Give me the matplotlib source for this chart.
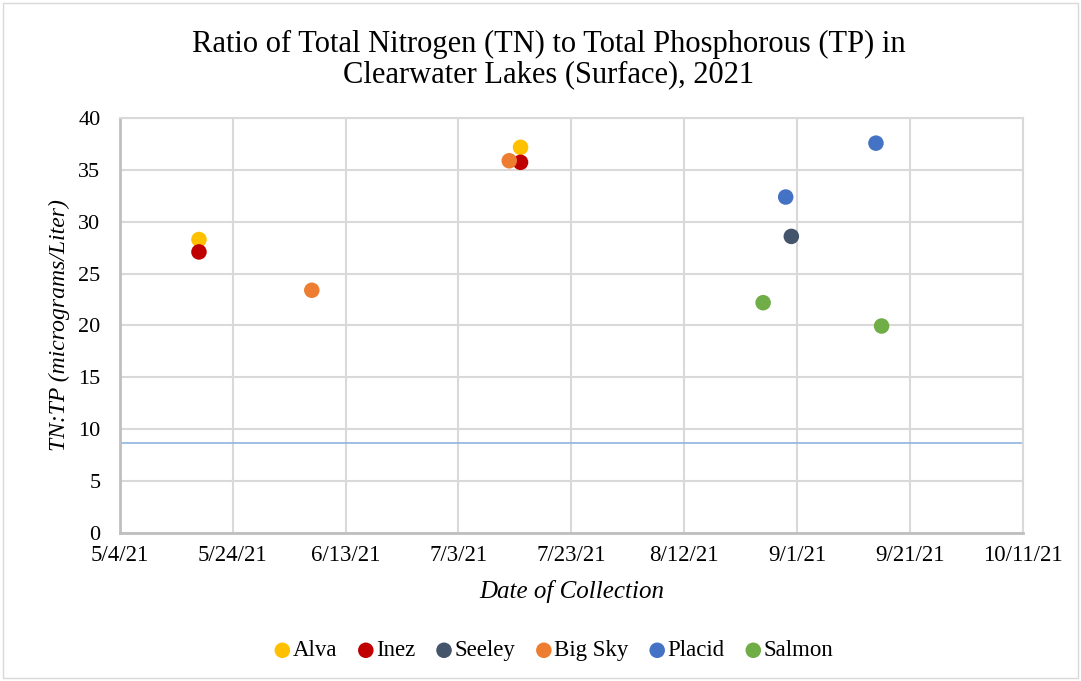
import matplotlib
matplotlib.use("Agg")
import matplotlib.pyplot as plt
import numpy as np
import pandas as pd
from matplotlib.patches import Rectangle

plt.rcParams['font.family'] = ['Liberation Serif', 'DejaVu Serif']

# TN:TP ratios by lake and collection date
lakes = ['Alva', 'Inez', 'Seeley', 'Big Sky', 'Placid', 'Salmon']
colors = ['#FFC000', '#C00000', '#44546A', '#ED7D31', '#4472C4', '#70AD47']
dates = {
    'Alva': ['2021-05-18', '2021-07-14'],
    'Inez': ['2021-05-18', '2021-07-14'],
    'Seeley': ['2021-08-31'],
    'Big Sky': ['2021-06-07', '2021-07-12'],
    'Placid': ['2021-08-30', '2021-09-15'],
    'Salmon': ['2021-08-26', '2021-09-16'],
}
ratios = {
    'Alva': [28.3, 37.2],
    'Inez': [27.1, 35.75],
    'Seeley': [28.6],
    'Big Sky': [23.4, 35.9],
    'Placid': [32.4, 37.6],
    'Salmon': [22.2, 19.95],
}
ref_ratio = 8.7

fig = plt.figure(figsize=(10.81, 6.81), dpi=100)
ax = fig.add_axes([0.111, 0.2178, 0.835, 0.6085])

for lake, c in zip(lakes, colors):
    ax.scatter(pd.to_datetime(dates[lake]), ratios[lake], s=125, color=c,
               label=lake, zorder=3, edgecolors='none')

ax.axhline(ref_ratio, color='#8FB4E3', lw=1.2, zorder=2)

start = pd.Timestamp('2021-05-04')
end = pd.Timestamp('2021-10-11')
ticks = pd.date_range(start, end, freq='20D')
ax.set_xlim(start, end)
ax.set_xticks(ticks)
ax.set_xticklabels([f'{d.month}/{d.day}/21' for d in ticks])
ax.set_ylim(0, 40)
ax.set_yticks(np.arange(0, 41, 5))

ax.grid(True, color='#D9D9D9', lw=1.5)
ax.set_axisbelow(True)
for side in ['top', 'right']:
    ax.spines[side].set_color('#D9D9D9')
    ax.spines[side].set_linewidth(1.5)
for side in ['left', 'bottom']:
    ax.spines[side].set_color('#BFBFBF')
    ax.spines[side].set_linewidth(2)
ax.tick_params(axis='x', length=0, labelsize=16.5, pad=9)
ax.tick_params(axis='y', length=0, labelsize=16, pad=14)

ax.set_title('Ratio of Total Nitrogen (TN) to Total Phosphorous (TP) in\n'
             'Clearwater Lakes (Surface), 2021', fontsize=22, pad=26,
             linespacing=1.05, x=0.475)
ax.set_xlabel('Date of Collection', fontsize=18, style='italic', labelpad=10)
ax.set_ylabel('TN:TP (micrograms/Liter)', fontsize=17, style='italic', labelpad=6)

ax.legend(loc='center', bbox_to_anchor=(0.48, -0.285), ncol=6, frameon=False,
          fontsize=16.5, handlelength=0.8, handletextpad=0.05, columnspacing=0.85,
          borderaxespad=0)

fig.patches.append(Rectangle((0.003, 0.004), 0.994, 0.992, transform=fig.transFigure,
                             fill=False, edgecolor='#D9D9D9', lw=1))

fig.savefig('out.png', dpi=100)
